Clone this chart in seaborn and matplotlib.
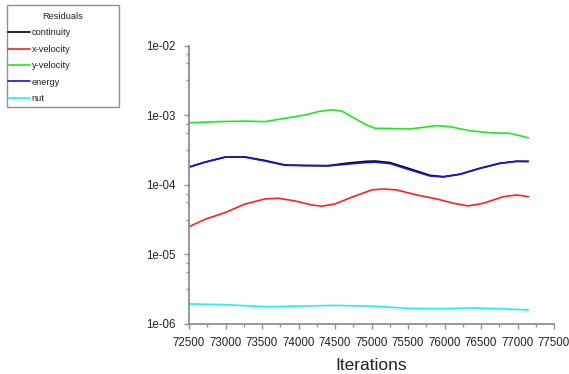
import numpy as np
import pandas as pd
import seaborn as sns
import matplotlib.pyplot as plt
from matplotlib.patches import Rectangle
from matplotlib.ticker import FixedLocator, NullFormatter

# === Residual histories ===
iter_y = [72500, 72901, 73267, 73541, 73815, 74089, 74271, 74455, 74592, 74729,
          74911, 75048, 75254, 75528, 75893, 76075, 76349, 76623, 76897, 77148]
y_velocity = [7.8e-4, 8.1e-4, 8.25e-4, 8.1e-4, 9.05e-4, 1.01e-3, 1.13e-3, 1.20e-3, 1.15e-3, 9.55e-4,
              7.45e-4, 6.5e-4, 6.45e-4, 6.35e-4, 7.1e-4, 6.85e-4, 6.0e-4, 5.6e-4, 5.5e-4, 4.75e-4]

iter_e = [72500, 72719, 72993, 73267, 73541, 73815, 74089, 74408, 74682, 74911,
          75048, 75253, 75527, 75801, 75984, 76212, 76486, 76760, 76989, 77148]
energy = [1.80e-4, 2.12e-4, 2.50e-4, 2.50e-4, 2.20e-4, 1.91e-4, 1.89e-4, 1.87e-4, 1.99e-4, 2.08e-4,
          2.12e-4, 2.02e-4, 1.64e-4, 1.34e-4, 1.30e-4, 1.42e-4, 1.73e-4, 2.04e-4, 2.18e-4, 2.17e-4]
continuity = [1.80e-4, 2.12e-4, 2.50e-4, 2.52e-4, 2.24e-4, 1.93e-4, 1.90e-4, 1.89e-4, 2.06e-4, 2.17e-4,
              2.20e-4, 2.09e-4, 1.70e-4, 1.37e-4, 1.31e-4, 1.42e-4, 1.73e-4, 2.04e-4, 2.18e-4, 2.17e-4]

iter_x = [72500, 72719, 72993, 73267, 73541, 73723, 73952, 74181, 74318, 74500,
          74729, 75003, 75162, 75345, 75619, 75893, 76121, 76326, 76532, 76806,
          76989, 77148]
x_velocity = [2.5e-5, 3.2e-5, 3.99e-5, 5.3e-5, 6.27e-5, 6.42e-5, 5.87e-5, 5.14e-5, 4.93e-5, 5.32e-5,
              6.64e-5, 8.45e-5, 8.73e-5, 8.45e-5, 7.16e-5, 6.27e-5, 5.44e-5, 4.98e-5, 5.44e-5, 6.76e-5,
              7.16e-5, 6.76e-5]

iter_n = [72500, 72970, 73563, 74019, 74475, 75023, 75479, 75935, 76391, 76756, 77148]
nut = [1.94e-6, 1.90e-6, 1.77e-6, 1.81e-6, 1.85e-6, 1.81e-6, 1.68e-6, 1.66e-6, 1.70e-6, 1.66e-6, 1.59e-6]

names = ['continuity', 'x-velocity', 'y-velocity', 'energy', 'nut']
colors = ['#000000', '#ff2020', '#20e820', '#1818d0', '#20f0f0']

# === Long-form table for seaborn ===
frames = [
    pd.DataFrame({'iter': iter_e, 'res': continuity, 'name': 'continuity'}),
    pd.DataFrame({'iter': iter_x, 'res': x_velocity, 'name': 'x-velocity'}),
    pd.DataFrame({'iter': iter_y, 'res': y_velocity, 'name': 'y-velocity'}),
    pd.DataFrame({'iter': iter_e, 'res': energy, 'name': 'energy'}),
    pd.DataFrame({'iter': iter_n, 'res': nut, 'name': 'nut'}),
]
df = pd.concat(frames, ignore_index=True)

sns.set_style("white")
plt.rcParams['font.family'] = ['Liberation Sans', 'DejaVu Sans']

fig = plt.figure(figsize=(5.69, 3.74), dpi=100)
ax = fig.add_axes([189 / 569, 1 - 324 / 374, 365 / 569, (324 - 45.7) / 374])

sns.lineplot(data=df, x='iter', y='res', hue='name', hue_order=names,
             palette=dict(zip(names, colors)), linewidth=1.2, ax=ax,
             sort=False, estimator=None, legend=False)

ax.set_yscale('log')
ax.set_xlim(72500, 77500)
ax.set_ylim(1e-6, 1e-2)

# === Axes styling ===
for side in ['top', 'right']:
    ax.spines[side].set_visible(False)
for side in ['left', 'bottom']:
    ax.spines[side].set_color('#909090')
    ax.spines[side].set_linewidth(1.3)

ax.set_xticks(np.arange(72500, 77501, 500))
ax.xaxis.set_minor_locator(FixedLocator(np.arange(72750, 77500, 500)))
ax.set_yticks([1e-6, 1e-5, 1e-4, 1e-3, 1e-2])
ax.set_yticklabels(['1e-06', '1e-05', '1e-04', '1e-03', '1e-02'])
minor_y = [10 ** (k - f) for k in range(-5, -1) for f in (0.125, 0.25, 0.5)]
ax.yaxis.set_minor_locator(FixedLocator(minor_y))
ax.yaxis.set_minor_formatter(NullFormatter())

ax.tick_params(axis='both', which='major', direction='out', length=3.5, width=1,
               color='#909090', labelsize=8.3, labelcolor='#222222', pad=6)
ax.tick_params(axis='both', which='minor', direction='out', length=2.5, width=1,
               color='#909090')
ax.tick_params(axis='x', which='both', bottom=True)
ax.tick_params(axis='y', which='both', left=True)

ax.set_xlabel('Iterations', fontsize=12.5, color='#222222', labelpad=6)
ax.set_ylabel('')

# === Legend box on the left ===
fig.add_artist(Rectangle((7 / 569, 1 - 107 / 374), 112 / 569, 102 / 374,
                         transform=fig.transFigure, fill=False,
                         edgecolor='#909090', linewidth=1))
handles = [plt.Line2D([], [], color=c, linewidth=1.2) for c in colors]
leg = fig.legend(handles, names, title='Residuals', loc='upper left',
                 bbox_to_anchor=(7 / 569, 1 - 107 / 374, 112 / 569, 96 / 374),
                 mode='expand', borderaxespad=0, fontsize=6.7, title_fontsize=6.7,
                 frameon=False, handlelength=2.4, handletextpad=0.15,
                 labelspacing=0.8, borderpad=0.1)
for t in leg.get_texts():
    t.set_color('#222222')

fig.savefig('out.png', dpi=100)
